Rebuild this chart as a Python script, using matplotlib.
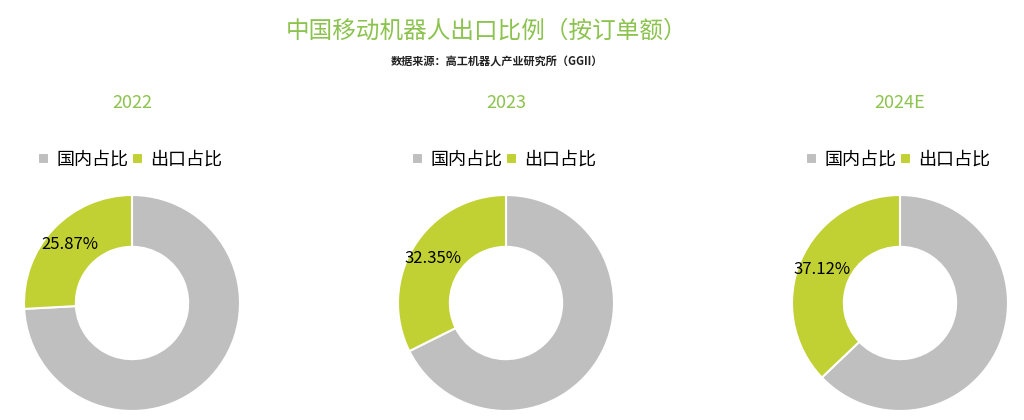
import matplotlib.pyplot as plt
import numpy as np

plt.rcParams['font.family'] = ['Noto Sans CJK SC', 'DejaVu Sans']

# 数据
years = ['2022', '2023', '2024E']
domestic = [74.13, 67.65, 62.88]
export = [25.87, 32.35, 37.12]
labels = ['国内占比', '出口占比']

title = '中国移动机器人出口比例（按订单额）'
source = '数据来源：高工机器人产业研究所（GGII）'

grey = '#bfbfbf'
green = '#c1d032'
title_green = '#8cc34f'

W, H = 1024, 420
fig = plt.figure(figsize=(W / 100, H / 100), dpi=100)

fig.text(487 / W, 1 - 31 / H, title, ha='center', va='center',
         fontsize=17, color=title_green)
fig.text(497 / W, 1 - 62 / H, source, ha='center', va='center',
         fontsize=8, color='#222222', fontweight='bold')

centers = [132, 506, 900]
cy, r = 303, 108

for i, year in enumerate(years):
    cx = centers[i]
    ax = fig.add_axes([(cx - r) / W, (H - cy - r) / H, 2 * r / W, 2 * r / H])
    vals = [domestic[i], export[i]]
    wedges, _ = ax.pie(vals, colors=[grey, green], startangle=90, counterclock=False,
                       radius=1, wedgeprops=dict(width=0.48, edgecolor='white', linewidth=1.5))
    # 标签只显示出口占比
    ang = np.deg2rad(90 + export[i] / 100 * 180)
    ax.text(0.79 * np.cos(ang), 0.79 * np.sin(ang), f'{export[i]:.2f}%',
            ha='center', va='center', fontsize=12, color='black')
    ax.set_xlim(-1, 1)
    ax.set_ylim(-1, 1)
    ax.set_aspect('equal')
    ax.axis('off')

    fig.text(cx / W, 1 - 103 / H, year, ha='center', va='center',
             fontsize=13, color=title_green)
    fig.legend(wedges, labels, loc='center', bbox_to_anchor=((cx - 2) / W, 1 - 160 / H),
               ncol=2, frameon=False, fontsize=13, handlelength=0.6, handleheight=0.6,
               handletextpad=0.4, columnspacing=0.2)

fig.savefig('out.png', dpi=100, facecolor='white')
